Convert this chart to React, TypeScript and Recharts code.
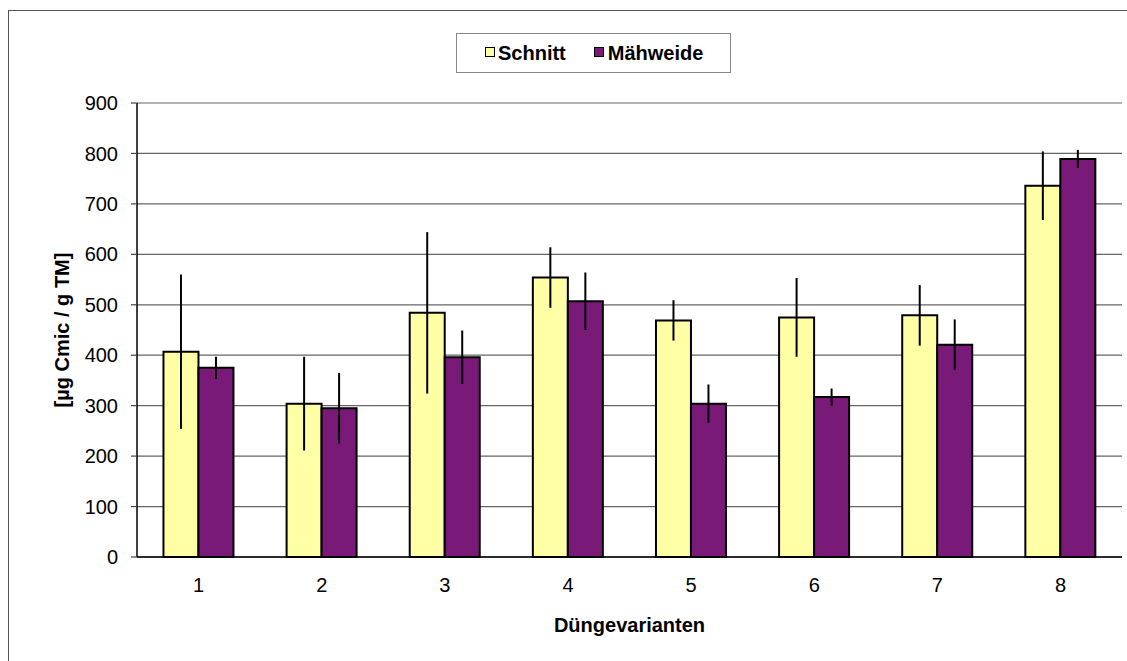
import React from 'react';
import { BarChart, Bar, XAxis, YAxis, CartesianGrid, ErrorBar, ReferenceArea } from 'recharts';

const categories = ['1', '2', '3', '4', '5', '6', '7', '8'];
const schnitt = [407, 304, 484, 554, 469, 475, 479, 736];
const schnittErr = [153, 93, 160, 60, 40, 78, 60, 68];
const maehweide = [375, 295, 396, 507, 304, 317, 421, 789];
const maehweideErr = [22, 70, 53, 57, 38, 17, 50, 18];
const yTicks = [0, 100, 200, 300, 400, 500, 600, 700, 800, 900];
const boundaryTicks = [0, 1, 2, 3, 4, 5, 6, 7, 8];

const data = categories.map((c, i) => ({
  cat: c,
  schnitt: schnitt[i],
  schnittErr: schnittErr[i],
  maehweide: maehweide[i],
  maehweideErr: maehweideErr[i],
}));

const FONT = '"Liberation Sans", Arial, sans-serif';
const YELLOW = '#FFFFA6';
const PURPLE = '#7A1A78';

const LegendBox = () => (
  <div
    style={{
      position: 'absolute',
      left: 456,
      top: 33,
      width: 273,
      height: 38,
      border: '1.5px solid #888',
      display: 'flex',
      alignItems: 'center',
      fontFamily: FONT,
      fontWeight: 'bold',
      fontSize: 20,
      color: '#000',
      background: '#fff',
    }}
  >
    <span style={{ width: 28 }} />
    <span style={{ width: 8, height: 8, background: YELLOW, border: '1.5px solid #000', marginRight: 3, marginTop: -2 }} />
    <span>Schnitt</span>
    <span style={{ width: 28 }} />
    <span style={{ width: 8, height: 8, background: PURPLE, border: '1.5px solid #000', marginRight: 4, marginTop: -2 }} />
    <span>Mähweide</span>
  </div>
);

export default function App() {
  return (
    <div style={{ position: 'fixed', left: 0, top: 0, width: 1127, height: 661, overflow: 'hidden', background: '#fff' }}>
      <div
        style={{
          position: 'absolute',
          left: 8,
          top: 10,
          width: 1300,
          height: 900,
          border: '1.5px solid #555',
        }}
      />
      <div style={{ position: 'absolute', left: 0, top: 0 }}>
        <BarChart
          width={1127}
          height={661}
          data={data}
          margin={{ top: 103, right: 5, left: 0, bottom: 0 }}
          barCategoryGap="21.5%"
          barGap={0}
          style={{ fontFamily: FONT }}
        >
          <CartesianGrid vertical={false} stroke="#666" strokeWidth={1.2} />
          <ReferenceArea
            xAxisId="grid"
            x1={0}
            x2={8}
            y1={0}
            y2={900}
            fill="none"
            stroke="#aaa"
            strokeWidth={1.5}
          />
          <XAxis
            xAxisId="grid"
            type="number"
            domain={[0, 8]}
            ticks={boundaryTicks}
            tickFormatter={() => ''}
            axisLine={false}
            tickLine={{ stroke: '#444', strokeWidth: 1.2 }}
            tickSize={7}
            height={0}
          />
          <XAxis
            dataKey="cat"
            axisLine={{ stroke: '#000', strokeWidth: 1.5 }}
            tickLine={false}
            tick={{ fill: '#000', fontSize: 20, fontFamily: FONT }}
            tickMargin={15}
            height={104}
            label={{
              content: (props: any) => {
                const vb = props.viewBox;
                return (
                  <text
                    x={vb.x + vb.width / 2}
                    y={vb.y + 75}
                    textAnchor="middle"
                    fontSize={20}
                    fontWeight="bold"
                    fontFamily={FONT}
                    fill="#000"
                  >
                    Düngevarianten
                  </text>
                );
              },
            }}
          />
          <YAxis
            domain={[0, 900]}
            ticks={yTicks}
            interval={0}
            width={137}
            axisLine={{ stroke: '#000', strokeWidth: 1.5 }}
            tickLine={{ stroke: '#444', strokeWidth: 1.2 }}
            tickSize={6}
            tickMargin={13}
            tick={{ fill: '#000', fontSize: 20, fontFamily: FONT }}
            label={{
              content: (props: any) => {
                const vb = props.viewBox;
                const cx = 62;
                const cy = vb.y + vb.height / 2;
                return (
                  <text
                    x={cx}
                    y={cy}
                    transform={`rotate(-90 ${cx} ${cy})`}
                    textAnchor="middle"
                    dominantBaseline="central"
                    fontSize={20}
                    fontWeight="bold"
                    fontFamily={FONT}
                    fill="#000"
                  >
                    [µg Cmic / g TM]
                  </text>
                );
              },
            }}
          />
          <Bar dataKey="schnitt" name="Schnitt" fill={YELLOW} stroke="#000" strokeWidth={2} isAnimationActive={false}>
            <ErrorBar dataKey="schnittErr" direction="y" width={0} stroke="#000" strokeWidth={2} />
          </Bar>
          <Bar dataKey="maehweide" name="Mähweide" fill={PURPLE} stroke="#000" strokeWidth={2} isAnimationActive={false}>
            <ErrorBar dataKey="maehweideErr" direction="y" width={0} stroke="#000" strokeWidth={2} />
          </Bar>
        </BarChart>
      </div>
      <LegendBox />
    </div>
  );
}
